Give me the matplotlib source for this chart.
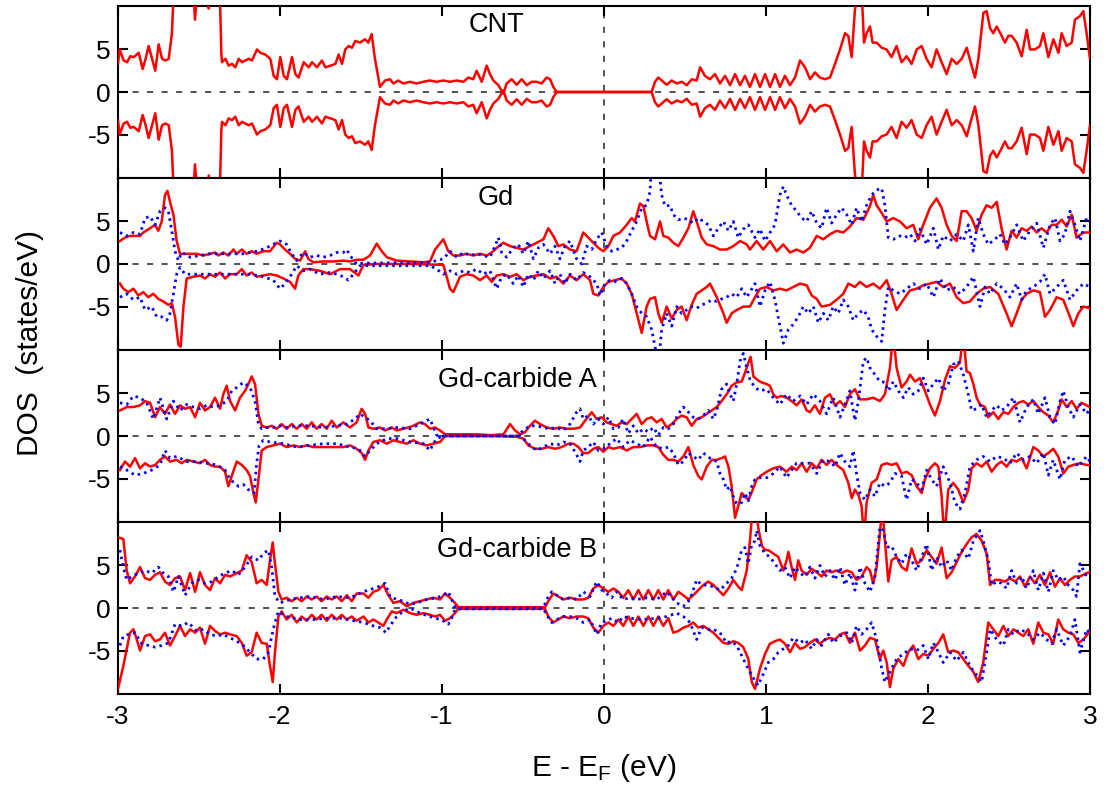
import matplotlib
matplotlib.use("Agg")
import matplotlib.pyplot as plt
import numpy as np

plt.rcParams['font.family'] = ['Liberation Sans', 'DejaVu Sans']
plt.rcParams['axes.unicode_minus'] = False
plt.rcParams['mathtext.default'] = 'regular'

# ---------------- data (E - E_F in eV, DOS in states/eV) ----------------
panel_titles = ["CNT", "Gd", "Gd-carbide A", "Gd-carbide B"]
x_ticks = [-3, -2, -1, 0, 1, 2, 3]
y_ticks = [-5, 0, 5]

# CNT spin-up (spin-down is its mirror image)
cnt_up = [(-3.00, 3.3), (-2.99, 5.0), (-2.965, 3.7), (-2.944, 3.5), (-2.924, 4.2), (-2.903, 4.1),
          (-2.872, 4.6), (-2.848, 2.7), (-2.827, 4.1), (-2.811, 5.4), (-2.790, 3.9), (-2.770, 2.5),
          (-2.749, 5.6), (-2.728, 3.9), (-2.708, 3.7), (-2.687, 3.9), (-2.667, 6.9), (-2.656, 12),
          (-2.535, 12), (-2.525, 8.5), (-2.51, 12), (-2.45, 12), (-2.44, 9.8), (-2.43, 12),
          (-2.372, 12), (-2.362, 4.5), (-2.358, 3.5), (-2.337, 3.9), (-2.317, 3.1), (-2.296, 3.3),
          (-2.276, 2.9), (-2.255, 3.9), (-2.235, 3.5), (-2.214, 3.7), (-2.193, 3.9), (-2.173, 3.7),
          (-2.142, 5.0), (-2.121, 4.6), (-2.091, 4.4), (-2.060, 3.9), (-2.039, 1.9), (-2.019, 1.5),
          (-1.998, 4.1), (-1.977, 1.9), (-1.957, 1.5), (-1.926, 4.1), (-1.905, 2.1), (-1.885, 1.7),
          (-1.854, 3.5), (-1.823, 2.9), (-1.802, 3.5), (-1.772, 2.9), (-1.741, 3.7), (-1.720, 2.9),
          (-1.689, 3.1), (-1.658, 3.3), (-1.638, 4.4), (-1.617, 3.3), (-1.597, 5.0), (-1.576, 5.4),
          (-1.556, 5.2), (-1.535, 6.0), (-1.506, 5.8), (-1.475, 6.2), (-1.455, 5.8), (-1.434, 6.8),
          (-1.414, 3.9), (-1.383, 0.6), (-1.352, 1.35), (-1.321, 1.5), (-1.300, 1.0), (-1.270, 1.35),
          (-1.239, 1.0), (-1.198, 1.2), (-1.156, 1.0), (-1.115, 1.2), (-1.074, 1.35), (-1.033, 1.2),
          (-0.992, 1.35), (-0.951, 1.2), (-0.909, 1.35), (-0.868, 1.2), (-0.837, 1.7), (-0.807, 1.5),
          (-0.786, 2.5), (-0.755, 1.2), (-0.724, 3.1), (-0.704, 2.1), (-0.683, 1.35), (-0.652, 0.8),
          (-0.621, -0.2), (-0.601, 1.0), (-0.570, 1.5), (-0.539, 0.85), (-0.508, 1.5), (-0.477, 0.8),
          (-0.447, 1.2), (-0.416, 1.2), (-0.385, 1.0), (-0.354, 1.7), (-0.333, 1.5), (-0.313, 0.6),
          (-0.292, 0.0), (0.294, 0.0), (0.315, 1.2), (0.335, 1.7), (0.356, 1.35), (0.387, 0.85),
          (0.418, 1.35), (0.449, 1.0), (0.480, 1.2), (0.511, 0.8), (0.542, 1.5), (0.572, 1.35),
          (0.593, 2.9), (0.623, 1.9), (0.654, 1.5), (0.685, 2.1), (0.716, 1.0), (0.747, 1.9),
          (0.778, 0.8), (0.809, 2.1), (0.840, 0.8), (0.870, 1.9), (0.901, 0.6), (0.932, 2.1),
          (0.963, 0.6), (0.994, 2.1), (1.025, 0.6), (1.056, 2.1), (1.086, 0.6), (1.117, 1.9),
          (1.148, 0.8), (1.179, 1.7), (1.210, 3.7), (1.241, 2.9), (1.272, 1.5), (1.302, 2.3),
          (1.333, 1.7), (1.364, 1.5), (1.395, 1.7), (1.426, 3.3), (1.457, 5.0), (1.488, 6.9),
          (1.508, 6.6), (1.529, 4.1), (1.549, 9.7), (1.570, 12), (1.590, 12), (1.605, 5.8),
          (1.621, 6.9), (1.642, 7.7), (1.658, 5.8), (1.683, 5.8), (1.714, 5.2), (1.744, 5.0),
          (1.775, 4.1), (1.806, 5.4), (1.837, 3.5), (1.868, 4.2), (1.899, 3.3), (1.930, 5.0),
          (1.961, 5.4), (1.991, 3.9), (2.022, 2.9), (2.053, 5.0), (2.084, 3.5), (2.115, 2.1),
          (2.146, 3.9), (2.177, 3.3), (2.208, 3.9), (2.239, 5.2), (2.269, 3.1), (2.290, 1.7),
          (2.311, 3.9), (2.342, 9.3), (2.362, 9.5), (2.383, 7.5), (2.403, 6.9), (2.424, 7.7),
          (2.455, 6.6), (2.475, 5.8), (2.496, 6.6), (2.516, 6.6), (2.547, 5.8), (2.578, 4.2),
          (2.609, 7.3), (2.630, 5.0), (2.660, 5.0), (2.691, 5.4), (2.712, 6.9), (2.743, 4.1),
          (2.774, 6.2), (2.805, 4.6), (2.825, 6.9), (2.856, 5.4), (2.887, 5.8), (2.907, 8.5),
          (2.938, 8.9), (2.959, 9.5), (2.979, 6.9), (3.0, 3.9)]

gd_red_up = [(-2.988, 2.7), (-2.957, 3.1), (-2.926, 3.3), (-2.864, 3.3), (-2.844, 3.7), (-2.802, 4.2),
             (-2.772, 4.6), (-2.751, 3.9), (-2.730, 5.0), (-2.710, 8.1), (-2.695, 8.6), (-2.679, 7.3),
             (-2.658, 5.8), (-2.638, 2.7), (-2.617, 1.2), (-2.576, 1.2), (-2.514, 1.2), (-2.473, 1.0),
             (-2.432, 1.2), (-2.401, 1.35), (-2.380, 1.0), (-2.350, 1.35), (-2.319, 1.0), (-2.288, 1.7),
             (-2.267, 1.2), (-2.236, 1.7), (-2.206, 1.2), (-2.175, 1.5), (-2.144, 1.2), (-2.103, 1.5),
             (-2.062, 1.5), (-2.020, 2.5), (-2.000, 2.3), (-1.969, 1.7), (-1.938, 1.2), (-1.907, 0.6),
             (-1.876, 0.4), (-1.845, 1.5), (-1.825, 0.6), (-1.794, 0.2), (-1.732, 0.3), (-1.670, 0.3),
             (-1.609, 0.4), (-1.568, 0.3), (-1.527, 0.5), (-1.485, 0.5), (-1.444, 1.0), (-1.403, 2.4),
             (-1.372, 1.5), (-1.341, 0.8), (-1.280, 0.4), (-1.197, 0.3), (-1.115, 0.2), (-1.074, 0.3),
             (-1.043, 1.7), (-0.992, 2.9), (-0.961, 1.5), (-0.930, 1.0), (-0.889, 1.0), (-0.848, 1.2),
             (-0.807, 1.0), (-0.765, 1.2), (-0.724, 1.0), (-0.693, 1.35), (-0.662, 1.9), (-0.621, 2.5),
             (-0.580, 2.1), (-0.539, 1.9), (-0.498, 1.7), (-0.457, 2.1), (-0.416, 2.5), (-0.374, 2.9),
             (-0.344, 4.2), (-0.313, 3.3), (-0.282, 2.1), (-0.251, 2.3), (-0.210, 1.7), (-0.169, 1.5),
             (-0.128, 3.7), (-0.097, 3.1), (-0.066, 2.5), (-0.035, 1.9), (-0.004, 1.5), (0.027, 2.1),
             (0.058, 3.3), (0.099, 3.7), (0.140, 4.6), (0.171, 5.4), (0.191, 5.0), (0.222, 7.1),
             (0.243, 6.8), (0.263, 5.0), (0.284, 3.3), (0.315, 2.9), (0.346, 5.0), (0.366, 3.3),
             (0.397, 3.1), (0.428, 2.5), (0.459, 2.1), (0.490, 3.1), (0.521, 4.2), (0.551, 6.2),
             (0.572, 5.0), (0.603, 3.1), (0.634, 2.3), (0.675, 2.1), (0.716, 1.7), (0.757, 1.7),
             (0.798, 2.1), (0.840, 2.7), (0.881, 2.3), (0.901, 1.7), (0.942, 2.7), (0.983, 1.7),
             (1.025, 2.7), (1.066, 1.5), (1.107, 2.3), (1.148, 1.35), (1.189, 1.7), (1.230, 1.35),
             (1.271, 1.9), (1.313, 3.3), (1.354, 2.9), (1.395, 3.5), (1.436, 3.9), (1.477, 3.7),
             (1.518, 4.4), (1.559, 5.4), (1.601, 5.2), (1.642, 6.8), (1.662, 8.1), (1.683, 6.9),
             (1.714, 6.0), (1.745, 5.0), (1.786, 5.4), (1.827, 5.0), (1.868, 4.2), (1.909, 4.6),
             (1.940, 2.9), (1.971, 4.6), (2.012, 6.6), (2.053, 7.7), (2.084, 6.6), (2.115, 4.6),
             (2.146, 3.3), (2.177, 2.7), (2.208, 6.2), (2.238, 6.2), (2.269, 5.4), (2.300, 3.9),
             (2.331, 5.8), (2.362, 6.9), (2.393, 6.6), (2.424, 7.3), (2.454, 4.2), (2.485, 1.7),
             (2.516, 3.9), (2.547, 3.1), (2.578, 4.2), (2.609, 3.9), (2.640, 4.4), (2.671, 3.7),
             (2.701, 4.2), (2.732, 3.7), (2.763, 4.6), (2.794, 4.6), (2.825, 5.2), (2.856, 4.4),
             (2.887, 5.8), (2.917, 3.1), (2.959, 3.7), (3.0, 3.7)]

gd_red_dn = [(-2.988, -2.3), (-2.967, -2.9), (-2.936, -3.3), (-2.905, -2.9), (-2.874, -3.7), (-2.844, -3.3),
             (-2.813, -3.9), (-2.782, -3.5), (-2.751, -4.1), (-2.720, -4.4), (-2.689, -4.8), (-2.668, -4.6),
             (-2.648, -6.2), (-2.627, -9.5), (-2.613, -9.7), (-2.596, -5.0), (-2.576, -1.7), (-2.535, -1.5),
             (-2.494, -1.35), (-2.463, -1.7), (-2.432, -1.2), (-2.401, -1.5), (-2.370, -1.0), (-2.339, -1.7),
             (-2.309, -1.2), (-2.267, -1.2), (-2.236, -0.6), (-2.206, -1.35), (-2.175, -1.0), (-2.144, -1.5),
             (-2.103, -1.35), (-2.062, -1.2), (-2.020, -1.35), (-1.979, -1.7), (-1.938, -2.1), (-1.907, -2.9),
             (-1.887, -1.35), (-1.856, -0.6), (-1.815, -0.6), (-1.753, -0.8), (-1.691, -1.2), (-1.629, -0.6),
             (-1.568, -0.6), (-1.516, -1.35), (-1.485, -0.1), (-1.403, 0.0), (-1.197, 0.0), (-0.992, -0.1),
             (-0.971, -1.5), (-0.951, -2.9), (-0.930, -3.3), (-0.889, -1.5), (-0.848, -1.2), (-0.807, -1.35),
             (-0.765, -1.9), (-0.724, -1.35), (-0.693, -2.1), (-0.662, -1.35), (-0.621, -1.2), (-0.580, -1.5),
             (-0.539, -1.2), (-0.498, -1.9), (-0.457, -1.5), (-0.416, -1.35), (-0.374, -1.2), (-0.333, -1.7),
             (-0.292, -1.5), (-0.251, -2.3), (-0.210, -1.35), (-0.169, -1.9), (-0.128, -1.2), (-0.086, -1.9),
             (-0.066, -3.5), (-0.035, -3.7), (-0.004, -2.7), (0.027, -2.1), (0.068, -1.9), (0.109, -1.7),
             (0.140, -2.3), (0.171, -3.5), (0.202, -5.8), (0.233, -8.1), (0.263, -5.0), (0.284, -4.1),
             (0.315, -3.9), (0.335, -5.8), (0.356, -6.9), (0.387, -5.0), (0.418, -6.4), (0.449, -5.4),
             (0.479, -5.0), (0.510, -6.6), (0.541, -4.8), (0.572, -3.5), (0.603, -3.1), (0.634, -2.7),
             (0.654, -2.3), (0.696, -3.9), (0.737, -5.8), (0.757, -6.9), (0.788, -5.8), (0.819, -5.4),
             (0.860, -5.0), (0.901, -5.0), (0.932, -3.9), (0.963, -2.9), (1.004, -2.7), (1.045, -3.1),
             (1.086, -2.9), (1.127, -3.1), (1.168, -2.7), (1.210, -2.3), (1.251, -2.5), (1.282, -3.7),
             (1.313, -4.1), (1.343, -5.0), (1.395, -4.8), (1.436, -4.2), (1.477, -3.5), (1.508, -2.3),
             (1.549, -2.7), (1.580, -2.1), (1.621, -2.7), (1.662, -2.3), (1.703, -2.9), (1.745, -1.9),
             (1.775, -3.5), (1.806, -5.4), (1.848, -4.2), (1.889, -3.1), (1.930, -2.9), (1.971, -2.5),
             (2.012, -2.3), (2.053, -2.1), (2.094, -2.7), (2.136, -2.3), (2.177, -3.9), (2.218, -4.6),
             (2.259, -4.4), (2.300, -3.5), (2.341, -2.9), (2.383, -2.7), (2.434, -3.5), (2.485, -5.8),
             (2.516, -7.3), (2.547, -5.8), (2.578, -4.2), (2.609, -3.5), (2.650, -3.1), (2.691, -3.3),
             (2.722, -6.2), (2.753, -5.4), (2.794, -3.9), (2.835, -4.2), (2.876, -6.2), (2.897, -7.3),
             (2.928, -5.8), (2.959, -5.0), (3.0, -5.2)]

gd_blue_up = [(-2.988, 3.7), (-2.946, 3.3), (-2.905, 3.7), (-2.864, 3.5), (-2.833, 5.4), (-2.802, 5.6),
              (-2.771, 4.6), (-2.741, 6.2), (-2.710, 6.6), (-2.689, 6.2), (-2.668, 3.9), (-2.648, 1.5),
              (-2.627, 0.4), (-2.607, 1.35), (-2.555, 0.8), (-2.494, 1.0), (-2.432, 1.2), (-2.370, 1.2),
              (-2.309, 1.2), (-2.226, 1.2), (-2.144, 1.5), (-2.082, 1.9), (-2.041, 2.3), (-2.000, 2.7),
              (-1.959, 2.3), (-1.928, 1.2), (-1.897, 0.4), (-1.856, 1.35), (-1.815, 0.8), (-1.774, 1.0),
              (-1.732, 0.8), (-1.691, 1.0), (-1.650, 1.35), (-1.609, 1.35), (-1.588, 1.7), (-1.568, 1.0),
              (-1.527, 0.0), (-1.485, 0.1), (-1.074, 0.2), (-1.033, 0.4), (-0.992, 0.6), (-0.951, 1.5),
              (-0.909, 0.8), (-0.868, 1.35), (-0.827, 1.0), (-0.786, 1.2), (-0.745, 1.0), (-0.704, 0.8),
              (-0.673, 2.1), (-0.652, 3.1), (-0.632, 1.35), (-0.601, 0.8), (-0.560, 1.9), (-0.529, 2.3),
              (-0.498, 1.2), (-0.467, 2.7), (-0.436, 0.6), (-0.405, 1.9), (-0.374, 2.3), (-0.333, 1.2),
              (-0.302, 2.1), (-0.272, 0.6), (-0.241, 2.1), (-0.210, 2.7), (-0.169, 0.6), (-0.138, 0.0),
              (-0.107, 2.1), (-0.076, 1.7), (-0.045, 2.9), (-0.014, 3.7), (0.016, 2.1), (0.047, 1.5),
              (0.078, 1.7), (0.109, 1.9), (0.140, 2.7), (0.171, 3.9), (0.202, 5.0), (0.233, 6.6),
              (0.263, 6.9), (0.284, 8.5), (0.294, 12), (0.335, 12), (0.356, 8.1), (0.377, 6.8),
              (0.407, 6.9), (0.428, 5.8), (0.459, 5.2), (0.490, 5.4), (0.521, 5.2), (0.551, 4.8),
              (0.582, 5.4), (0.613, 5.0), (0.644, 4.6), (0.675, 3.3), (0.706, 4.2), (0.737, 5.0),
              (0.768, 3.9), (0.798, 5.0), (0.829, 3.1), (0.860, 4.1), (0.891, 4.6), (0.932, 3.1),
              (0.963, 4.1), (0.994, 2.7), (1.025, 3.7), (1.055, 4.6), (1.086, 8.1), (1.107, 9.1),
              (1.127, 8.1), (1.158, 6.9), (1.189, 6.2), (1.220, 5.4), (1.251, 5.0), (1.282, 6.2),
              (1.313, 4.8), (1.343, 4.2), (1.374, 6.6), (1.405, 4.8), (1.436, 5.8), (1.467, 6.6),
              (1.498, 5.8), (1.529, 4.6), (1.559, 6.6), (1.590, 5.0), (1.621, 6.9), (1.652, 8.1),
              (1.683, 8.7), (1.714, 8.9), (1.734, 6.9), (1.755, 3.1), (1.786, 2.9), (1.827, 3.3),
              (1.858, 3.1), (1.889, 3.5), (1.920, 2.7), (1.950, 4.1), (1.992, 2.3), (2.033, 4.2),
              (2.064, 1.7), (2.094, 3.3), (2.136, 2.7), (2.177, 3.5), (2.218, 2.7), (2.249, 4.6),
              (2.280, 1.5), (2.310, 5.4), (2.341, 3.5), (2.372, 2.3), (2.413, 2.9), (2.444, 3.5),
              (2.475, 2.3), (2.506, 3.1), (2.547, 4.6), (2.588, 2.7), (2.629, 3.9), (2.671, 4.8),
              (2.712, 1.9), (2.753, 4.6), (2.784, 5.4), (2.815, 2.7), (2.845, 3.5), (2.876, 6.2),
              (2.907, 4.6), (2.938, 2.7), (2.979, 5.4), (3.0, 5.0)]

gd_blue_dn = [(-2.988, -3.9), (-2.946, -3.5), (-2.905, -4.2), (-2.864, -3.9), (-2.833, -5.4), (-2.792, -5.0),
              (-2.761, -6.2), (-2.730, -6.2), (-2.699, -6.6), (-2.679, -5.8), (-2.658, -3.5), (-2.638, -1.2),
              (-2.617, -0.4), (-2.586, -1.2), (-2.514, -1.2), (-2.432, -1.2), (-2.350, -1.2), (-2.267, -1.2),
              (-2.185, -1.2), (-2.103, -1.5), (-2.041, -1.9), (-2.000, -2.9), (-1.969, -2.3), (-1.928, -1.2),
              (-1.897, -0.2), (-1.856, -0.8), (-1.815, -0.6), (-1.753, -1.2), (-1.691, -1.0), (-1.650, -1.2),
              (-1.609, -1.5), (-1.578, -1.9), (-1.547, -1.2), (-1.506, -0.2), (-1.074, -0.2), (-1.033, -0.6),
              (-0.992, -1.2), (-0.951, -0.8), (-0.909, -1.2), (-0.868, -0.8), (-0.827, -1.0), (-0.786, -0.6),
              (-0.745, -1.2), (-0.704, -0.8), (-0.662, -2.9), (-0.632, -1.5), (-0.601, -1.2), (-0.560, -2.3),
              (-0.529, -1.35), (-0.498, -2.7), (-0.467, -1.2), (-0.436, -1.9), (-0.405, -0.8), (-0.374, -1.7),
              (-0.333, -0.8), (-0.302, -2.3), (-0.272, -1.2), (-0.241, -2.3), (-0.210, -1.2), (-0.169, -1.9),
              (-0.128, -1.0), (-0.086, -1.5), (-0.045, -2.3), (-0.025, -3.7), (0.006, -2.3), (0.037, -1.9),
              (0.078, -2.1), (0.109, -1.7), (0.140, -2.3), (0.171, -3.5), (0.202, -5.0), (0.233, -5.8),
              (0.263, -6.2), (0.294, -7.7), (0.315, -9.7), (0.335, -12), (0.356, -7.7), (0.387, -5.8),
              (0.418, -7.3), (0.449, -5.0), (0.479, -5.8), (0.510, -5.4), (0.541, -5.0), (0.572, -5.2),
              (0.603, -4.8), (0.634, -4.6), (0.665, -4.2), (0.696, -4.4), (0.726, -4.1), (0.757, -3.9),
              (0.788, -3.5), (0.819, -3.9), (0.850, -2.9), (0.881, -3.9), (0.932, -2.3), (0.963, -5.0),
              (0.994, -3.1), (1.025, -2.1), (1.055, -4.2), (1.086, -7.3), (1.107, -9.3), (1.138, -7.7),
              (1.168, -7.1), (1.199, -6.2), (1.230, -5.0), (1.261, -5.8), (1.292, -5.0), (1.323, -6.9),
              (1.354, -5.8), (1.385, -6.6), (1.415, -5.0), (1.446, -5.8), (1.477, -4.2), (1.508, -5.0),
              (1.539, -6.6), (1.570, -5.8), (1.601, -5.4), (1.631, -6.2), (1.652, -7.7), (1.683, -8.5),
              (1.714, -9.1), (1.734, -5.4), (1.755, -2.7), (1.786, -3.1), (1.827, -3.5), (1.868, -2.9),
              (1.909, -2.3), (1.950, -2.9), (1.992, -2.3), (2.033, -3.9), (2.074, -1.7), (2.115, -3.1),
              (2.156, -2.7), (2.197, -3.5), (2.238, -2.7), (2.280, -1.5), (2.321, -5.0), (2.352, -2.7),
              (2.383, -3.5), (2.424, -2.3), (2.465, -2.9), (2.506, -3.9), (2.547, -2.3), (2.578, -4.2),
              (2.609, -3.1), (2.650, -2.7), (2.691, -2.1), (2.722, -1.2), (2.753, -3.5), (2.794, -2.7),
              (2.835, -1.9), (2.876, -4.2), (2.917, -3.1), (2.959, -2.3), (3.0, -2.7)]

ga_red_up = [(-2.988, 3.0), (-2.946, 3.4), (-2.905, 3.4), (-2.864, 3.6), (-2.833, 4.1), (-2.802, 3.9),
             (-2.771, 2.2), (-2.741, 3.4), (-2.710, 2.6), (-2.679, 3.7), (-2.648, 2.6), (-2.617, 3.6),
             (-2.586, 3.2), (-2.555, 3.4), (-2.524, 2.2), (-2.494, 3.9), (-2.463, 3.0), (-2.432, 3.4),
             (-2.401, 4.5), (-2.370, 3.2), (-2.350, 4.9), (-2.329, 5.9), (-2.308, 4.1), (-2.277, 3.0),
             (-2.247, 4.5), (-2.216, 5.3), (-2.195, 6.1), (-2.175, 7.0), (-2.154, 6.1), (-2.133, 2.6),
             (-2.113, 1.2), (-2.082, 1.0), (-2.051, 1.2), (-2.020, 0.85), (-1.990, 1.4), (-1.959, 0.85),
             (-1.928, 1.4), (-1.897, 0.85), (-1.866, 1.4), (-1.835, 0.85), (-1.804, 1.6), (-1.774, 0.85),
             (-1.743, 1.4), (-1.712, 0.85), (-1.681, 1.8), (-1.650, 1.0), (-1.609, 1.6), (-1.568, 1.0),
             (-1.527, 1.6), (-1.496, 3.2), (-1.475, 2.6), (-1.454, 1.0), (-1.424, 0.85), (-1.383, 1.0),
             (-1.352, 0.65), (-1.310, 1.0), (-1.280, 0.65), (-1.239, 0.85), (-1.208, 1.0), (-1.177, 1.2),
             (-1.136, 1.6), (-1.105, 1.4), (-1.074, 0.85), (-1.043, 1.0), (-1.012, 0.65), (-0.981, 0.2),
             (-0.868, 0.2), (-0.786, 0.2), (-0.704, 0.1), (-0.621, 0.2), (-0.580, 1.4), (-0.549, 0.65),
             (-0.518, 0.2), (-0.488, 0.45), (-0.457, 1.2), (-0.426, 1.8), (-0.395, 1.4), (-0.354, 1.0),
             (-0.313, 0.85), (-0.272, 1.0), (-0.230, 0.85), (-0.189, 0.85), (-0.148, 1.0), (-0.117, 1.8),
             (-0.076, 2.8), (-0.045, 2.0), (-0.014, 2.2), (0.016, 1.6), (0.047, 1.4), (0.078, 1.2),
             (0.109, 1.6), (0.140, 1.4), (0.171, 2.0), (0.202, 2.6), (0.233, 1.4), (0.263, 2.0),
             (0.294, 2.2), (0.325, 1.6), (0.356, 2.0), (0.387, 1.0), (0.418, 1.4), (0.449, 2.0),
             (0.479, 2.4), (0.510, 2.2), (0.541, 1.2), (0.572, 2.0), (0.603, 2.2), (0.634, 2.6),
             (0.665, 3.0), (0.696, 3.4), (0.726, 4.1), (0.757, 4.9), (0.788, 5.9), (0.819, 6.3),
             (0.850, 6.4), (0.870, 7.4), (0.891, 8.6), (0.905, 9.3), (0.922, 7.0), (0.953, 6.5),
             (0.973, 6.3), (1.004, 6.1), (1.024, 5.9), (1.045, 4.9), (1.066, 4.5), (1.096, 4.7),
             (1.127, 4.5), (1.158, 4.1), (1.189, 3.6), (1.220, 4.3), (1.251, 3.0), (1.271, 2.8),
             (1.302, 3.6), (1.333, 2.6), (1.364, 4.5), (1.395, 4.9), (1.426, 3.6), (1.457, 4.1),
             (1.487, 3.4), (1.518, 4.9), (1.549, 5.5), (1.580, 4.3), (1.621, 4.3), (1.662, 4.5),
             (1.703, 4.1), (1.734, 4.9), (1.765, 8.0), (1.786, 12), (1.806, 8.0), (1.837, 5.7),
             (1.868, 6.4), (1.889, 7.2), (1.920, 6.4), (1.950, 6.8), (1.981, 5.3), (2.012, 3.7),
             (2.043, 2.4), (2.074, 4.1), (2.105, 6.6), (2.136, 8.2), (2.166, 8.0), (2.197, 8.6),
             (2.218, 12), (2.238, 7.6), (2.259, 7.4), (2.280, 6.1), (2.300, 4.5), (2.321, 3.7),
             (2.352, 3.4), (2.372, 2.2), (2.403, 2.8), (2.434, 2.0), (2.465, 2.8), (2.496, 2.6),
             (2.527, 3.4), (2.557, 3.9), (2.588, 4.1), (2.619, 3.7), (2.650, 4.1), (2.681, 3.4),
             (2.712, 2.8), (2.743, 2.4), (2.773, 1.6), (2.804, 3.0), (2.825, 4.3), (2.856, 3.4),
             (2.887, 4.1), (2.917, 3.2), (2.948, 3.9), (2.979, 3.6), (3.0, 3.4)]

ga_red_dn = [(-2.988, -4.0), (-2.957, -3.0), (-2.926, -3.6), (-2.895, -2.6), (-2.864, -3.8), (-2.833, -3.2),
             (-2.802, -3.6), (-2.771, -3.4), (-2.741, -2.8), (-2.710, -2.4), (-2.679, -3.0), (-2.638, -2.8),
             (-2.607, -3.2), (-2.576, -2.8), (-2.535, -3.0), (-2.494, -3.2), (-2.463, -2.8), (-2.432, -3.4),
             (-2.401, -3.6), (-2.370, -3.6), (-2.339, -4.2), (-2.319, -5.9), (-2.298, -4.7), (-2.267, -3.0),
             (-2.236, -3.4), (-2.206, -4.0), (-2.185, -4.7), (-2.164, -6.7), (-2.150, -7.8), (-2.133, -5.1),
             (-2.113, -1.7), (-2.082, -1.3), (-2.041, -1.1), (-2.000, -0.9), (-1.959, -1.3), (-1.917, -1.1),
             (-1.876, -1.3), (-1.835, -1.1), (-1.794, -1.3), (-1.732, -1.3), (-1.671, -1.3), (-1.609, -1.3),
             (-1.568, -1.1), (-1.527, -1.5), (-1.496, -2.0), (-1.475, -2.8), (-1.454, -1.7), (-1.424, -0.7),
             (-1.383, -0.5), (-1.341, -0.9), (-1.300, -0.5), (-1.259, -0.7), (-1.218, -0.9), (-1.177, -0.5),
             (-1.136, -0.9), (-1.095, -1.1), (-1.054, -0.9), (-1.012, -0.7), (-0.981, 0.0), (-0.868, 0.0),
             (-0.662, 0.0), (-0.539, -0.1), (-0.498, -0.3), (-0.467, -1.1), (-0.426, -1.5), (-0.385, -1.5),
             (-0.344, -1.3), (-0.302, -1.5), (-0.261, -1.3), (-0.220, -0.9), (-0.189, -0.9), (-0.158, -1.3),
             (-0.128, -2.0), (-0.097, -2.0), (-0.066, -1.5), (-0.035, -1.3), (-0.004, -1.85), (0.027, -1.3),
             (0.058, -1.5), (0.099, -1.3), (0.140, -1.7), (0.181, -1.3), (0.222, -1.3), (0.263, -1.1),
             (0.305, -1.1), (0.335, -1.3), (0.366, -2.2), (0.397, -2.8), (0.428, -2.8), (0.459, -3.0),
             (0.490, -2.4), (0.521, -1.3), (0.551, -3.4), (0.582, -4.7), (0.603, -5.1), (0.634, -3.6),
             (0.665, -2.8), (0.696, -2.8), (0.726, -2.6), (0.747, -2.4), (0.768, -3.6), (0.788, -5.9),
             (0.809, -9.6), (0.829, -8.2), (0.850, -6.7), (0.870, -7.1), (0.891, -7.5), (0.912, -6.6),
             (0.942, -5.1), (0.973, -4.6), (1.004, -4.2), (1.045, -3.8), (1.086, -3.6), (1.127, -4.2),
             (1.158, -3.6), (1.189, -4.0), (1.220, -3.2), (1.251, -4.2), (1.282, -3.2), (1.313, -3.8),
             (1.343, -2.8), (1.374, -3.4), (1.405, -2.8), (1.436, -3.4), (1.477, -4.0), (1.508, -5.5),
             (1.529, -7.3), (1.549, -6.3), (1.570, -6.9), (1.590, -8.2), (1.605, -12), (1.621, -7.8),
             (1.652, -5.5), (1.683, -5.1), (1.714, -3.4), (1.745, -3.2), (1.775, -3.4), (1.806, -3.2),
             (1.837, -4.4), (1.868, -4.2), (1.899, -4.6), (1.930, -5.9), (1.961, -6.7), (1.981, -5.1),
             (2.012, -3.8), (2.043, -3.2), (2.064, -3.6), (2.084, -7.1), (2.101, -12), (2.125, -6.3),
             (2.156, -5.5), (2.187, -6.3), (2.218, -7.8), (2.249, -6.3), (2.269, -3.8), (2.300, -3.2),
             (2.331, -3.6), (2.362, -3.0), (2.393, -4.2), (2.424, -3.4), (2.454, -3.0), (2.485, -3.6),
             (2.516, -2.8), (2.547, -3.0), (2.578, -2.6), (2.609, -3.8), (2.650, -1.3), (2.681, -1.7),
             (2.712, -2.4), (2.743, -2.0), (2.773, -1.5), (2.804, -2.4), (2.835, -4.4), (2.866, -3.6),
             (2.897, -3.4), (2.938, -3.2), (2.979, -3.4), (3.0, -3.4)]

ga_blue_up = [(-2.988, 3.9), (-2.946, 3.7), (-2.905, 4.7), (-2.864, 4.5), (-2.823, 3.9), (-2.782, 2.0),
              (-2.741, 4.5), (-2.699, 2.0), (-2.658, 4.1), (-2.617, 3.0), (-2.576, 3.7), (-2.535, 3.4),
              (-2.494, 3.2), (-2.453, 3.6), (-2.411, 3.4), (-2.370, 3.6), (-2.329, 4.1), (-2.298, 5.3),
              (-2.267, 5.7), (-2.226, 6.3), (-2.185, 5.7), (-2.154, 4.1), (-2.133, 1.4), (-2.113, 0.85),
              (-2.082, 1.0), (-2.041, 1.0), (-2.000, 1.2), (-1.959, 1.0), (-1.897, 1.2), (-1.815, 1.2),
              (-1.732, 1.0), (-1.650, 1.2), (-1.588, 1.4), (-1.537, 2.0), (-1.506, 2.6), (-1.475, 2.2),
              (-1.444, 1.8), (-1.403, 0.85), (-1.341, 0.85), (-1.280, 1.0), (-1.197, 0.85), (-1.115, 1.6),
              (-1.074, 2.0), (-1.053, 1.0), (-1.033, 0.1), (-0.992, 0.0), (-0.539, 0.0), (-0.498, 0.65),
              (-0.457, 1.2), (-0.416, 1.2), (-0.374, 1.0), (-0.333, 0.85), (-0.292, 1.0), (-0.251, 0.65),
              (-0.210, 1.4), (-0.169, 2.8), (-0.148, 3.2), (-0.128, 2.0), (-0.097, 2.4), (-0.066, 1.4),
              (-0.035, 2.0), (-0.004, 1.4), (0.027, 2.2), (0.058, 0.85), (0.089, 1.0), (0.119, 2.0),
              (0.150, 0.3), (0.181, 1.2), (0.212, 0.3), (0.243, 0.85), (0.274, 0.45), (0.305, 1.0),
              (0.335, 0.1), (0.366, 1.0), (0.397, 0.85), (0.428, 1.4), (0.459, 2.6), (0.490, 3.4),
              (0.521, 2.8), (0.551, 2.2), (0.582, 2.0), (0.613, 2.4), (0.644, 3.0), (0.675, 2.0),
              (0.696, 3.0), (0.726, 5.5), (0.757, 6.1), (0.778, 4.9), (0.798, 4.1), (0.819, 6.1),
              (0.840, 8.8), (0.860, 9.7), (0.881, 8.0), (0.901, 6.6), (0.932, 5.7), (0.963, 5.3),
              (1.004, 5.5), (1.045, 4.5), (1.086, 3.7), (1.127, 4.9), (1.168, 4.1), (1.210, 4.7),
              (1.251, 3.7), (1.292, 4.9), (1.333, 4.1), (1.374, 2.6), (1.415, 4.5), (1.457, 2.2),
              (1.487, 3.7), (1.518, 5.3), (1.549, 1.8), (1.570, 4.1), (1.601, 8.8), (1.621, 9.2),
              (1.642, 8.0), (1.673, 7.2), (1.703, 6.4), (1.734, 6.3), (1.755, 5.3), (1.786, 6.4),
              (1.817, 5.3), (1.848, 4.5), (1.878, 5.7), (1.909, 4.9), (1.940, 5.3), (1.971, 6.8),
              (2.002, 5.3), (2.033, 6.1), (2.064, 6.8), (2.094, 5.3), (2.125, 6.1), (2.156, 8.4),
              (2.187, 8.8), (2.218, 7.2), (2.249, 4.9), (2.269, 3.0), (2.300, 3.2), (2.331, 3.7),
              (2.362, 2.2), (2.393, 3.0), (2.424, 3.6), (2.454, 3.0), (2.485, 3.4), (2.527, 4.5),
              (2.568, 1.6), (2.609, 3.4), (2.650, 4.3), (2.681, 2.6), (2.722, 4.5), (2.753, 2.2),
              (2.784, 1.4), (2.815, 4.1), (2.835, 5.3), (2.866, 3.4), (2.897, 2.2), (2.938, 3.7),
              (2.979, 2.6), (3.0, 3.2)]

ga_blue_dn = [(-2.988, -3.6), (-2.946, -4.0), (-2.895, -4.6), (-2.844, -4.4), (-2.792, -4.0), (-2.741, -3.4),
              (-2.710, -1.7), (-2.679, -2.6), (-2.638, -2.4), (-2.576, -3.0), (-2.514, -3.0), (-2.453, -3.2),
              (-2.391, -3.4), (-2.339, -4.0), (-2.308, -5.1), (-2.257, -5.9), (-2.226, -5.7), (-2.185, -6.5),
              (-2.160, -6.7), (-2.144, -3.2), (-2.129, -1.1), (-2.103, -0.5), (-2.062, -0.7), (-1.979, -0.9),
              (-1.897, -1.3), (-1.815, -1.1), (-1.732, -0.9), (-1.650, -0.9), (-1.568, -1.3), (-1.516, -1.5),
              (-1.475, -2.4), (-1.444, -1.7), (-1.403, -0.9), (-1.341, -0.3), (-1.280, -0.3), (-1.197, -0.7),
              (-1.115, -0.9), (-1.074, -1.7), (-1.053, -0.9), (-1.033, -0.3), (-0.992, 0.0), (-0.518, 0.0),
              (-0.488, -0.5), (-0.457, -1.1), (-0.416, -1.7), (-0.374, -1.3), (-0.333, -0.9), (-0.292, -1.1),
              (-0.251, -0.7), (-0.210, -0.9), (-0.169, -2.2), (-0.148, -3.0), (-0.128, -1.7), (-0.097, -1.3),
              (-0.066, -0.7), (-0.035, -1.7), (-0.004, -1.5), (0.037, -0.9), (0.078, -0.3), (0.119, -1.3),
              (0.160, -0.5), (0.202, -0.9), (0.243, -1.3), (0.284, -0.1), (0.325, -1.3), (0.366, -1.5),
              (0.397, -1.3), (0.428, -2.0), (0.459, -3.4), (0.490, -3.0), (0.521, -2.0), (0.551, -2.4),
              (0.582, -2.8), (0.613, -2.0), (0.654, -2.6), (0.696, -3.0), (0.716, -4.4), (0.737, -5.1),
              (0.757, -6.3), (0.778, -5.9), (0.798, -7.1), (0.819, -8.0), (0.850, -7.8), (0.870, -6.7),
              (0.891, -7.6), (0.912, -5.9), (0.932, -5.1), (0.963, -4.9), (1.004, -4.9), (1.045, -4.4),
              (1.086, -3.6), (1.127, -4.9), (1.158, -4.0), (1.189, -3.2), (1.230, -3.2), (1.271, -3.2),
              (1.313, -4.4), (1.354, -2.8), (1.395, -3.0), (1.426, -3.6), (1.457, -2.0), (1.487, -3.0),
              (1.518, -3.6), (1.539, -1.7), (1.559, -4.4), (1.580, -6.7), (1.611, -7.5), (1.642, -6.3),
              (1.673, -7.1), (1.703, -5.5), (1.734, -5.9), (1.765, -5.5), (1.796, -4.4), (1.837, -4.7),
              (1.868, -7.5), (1.899, -5.1), (1.930, -5.5), (1.961, -6.3), (1.992, -4.0), (2.022, -5.1),
              (2.053, -5.9), (2.094, -3.6), (2.136, -5.5), (2.166, -7.8), (2.197, -8.6), (2.228, -6.7),
              (2.259, -3.6), (2.300, -2.8), (2.341, -2.4), (2.383, -3.0), (2.424, -2.4), (2.465, -2.6),
              (2.506, -3.2), (2.547, -2.0), (2.588, -2.8), (2.629, -2.4), (2.671, -3.2), (2.712, -2.0),
              (2.743, -4.6), (2.773, -2.8), (2.815, -5.1), (2.845, -2.8), (2.887, -2.4), (2.928, -3.6),
              (2.979, -2.4), (3.0, -3.0)]

gb_red_up = [(-3.0, 8.3), (-2.967, 8.1), (-2.946, 4.4), (-2.926, 2.9), (-2.895, 3.7), (-2.864, 4.8),
             (-2.833, 3.5), (-2.802, 3.3), (-2.771, 3.9), (-2.741, 4.2), (-2.710, 3.1), (-2.679, 2.7),
             (-2.648, 3.5), (-2.617, 3.7), (-2.586, 2.1), (-2.555, 4.1), (-2.524, 1.9), (-2.494, 4.2),
             (-2.463, 2.7), (-2.432, 2.1), (-2.401, 3.5), (-2.370, 2.9), (-2.339, 3.9), (-2.308, 3.7),
             (-2.267, 4.1), (-2.236, 4.4), (-2.206, 6.2), (-2.175, 5.4), (-2.144, 2.9), (-2.113, 3.3),
             (-2.082, 2.7), (-2.062, 5.6), (-2.045, 7.7), (-2.031, 5.2), (-2.010, 1.9), (-1.990, 1.0),
             (-1.959, 1.2), (-1.928, 0.8), (-1.897, 1.2), (-1.866, 0.8), (-1.835, 1.35), (-1.804, 1.0),
             (-1.774, 1.35), (-1.743, 0.8), (-1.712, 1.35), (-1.681, 1.0), (-1.650, 1.35), (-1.619, 0.8),
             (-1.588, 1.5), (-1.557, 0.8), (-1.527, 1.7), (-1.485, 1.7), (-1.454, 1.2), (-1.424, 1.9),
             (-1.393, 2.1), (-1.362, 2.7), (-1.331, 1.5), (-1.300, 0.6), (-1.259, 0.8), (-1.218, 0.2),
             (-1.177, 0.6), (-1.136, 0.8), (-1.095, 1.0), (-1.054, 1.2), (-1.012, 1.0), (-0.981, 1.7),
             (-0.951, 1.2), (-0.920, 0.6), (-0.899, 0.1), (-0.868, 0.1), (-0.364, 0.1), (-0.344, 0.8),
             (-0.313, 1.7), (-0.282, 1.35), (-0.251, 1.0), (-0.210, 1.2), (-0.169, 1.0), (-0.128, 1.0),
             (-0.097, 1.2), (-0.066, 2.3), (-0.035, 2.7), (-0.004, 2.3), (0.027, 1.9), (0.058, 2.3),
             (0.089, 1.9), (0.119, 1.2), (0.150, 2.1), (0.181, 1.0), (0.212, 2.1), (0.243, 1.0),
             (0.274, 2.1), (0.305, 1.0), (0.335, 2.1), (0.366, 1.0), (0.397, 2.1), (0.428, 1.0),
             (0.459, 1.9), (0.490, 1.5), (0.521, 1.0), (0.551, 1.5), (0.582, 2.1), (0.613, 2.7),
             (0.644, 3.1), (0.675, 2.7), (0.706, 2.1), (0.737, 1.5), (0.768, 2.3), (0.798, 3.3),
             (0.829, 2.5), (0.850, 2.1), (0.881, 4.4), (0.901, 7.9), (0.918, 12), (0.935, 12),
             (0.955, 9.1), (0.975, 7.3), (0.994, 6.8), (1.014, 6.8), (1.045, 6.4), (1.076, 6.0),
             (1.107, 4.4), (1.127, 5.6), (1.138, 6.6), (1.158, 4.8), (1.179, 3.3), (1.199, 5.6),
             (1.220, 4.4), (1.251, 3.9), (1.282, 4.6), (1.313, 4.2), (1.343, 3.7), (1.374, 4.4),
             (1.405, 4.2), (1.436, 4.4), (1.467, 4.1), (1.498, 4.4), (1.529, 4.2), (1.559, 3.3),
             (1.590, 3.7), (1.621, 4.8), (1.642, 4.4), (1.662, 2.9), (1.683, 4.8), (1.703, 8.7),
             (1.718, 12), (1.734, 7.9), (1.755, 3.1), (1.775, 5.6), (1.806, 6.0), (1.837, 4.8),
             (1.868, 4.4), (1.899, 7.0), (1.930, 5.2), (1.961, 5.6), (1.992, 6.8), (2.022, 6.0),
             (2.053, 5.2), (2.084, 7.1), (2.115, 3.5), (2.146, 4.2), (2.177, 5.4), (2.208, 6.6),
             (2.238, 7.5), (2.269, 8.3), (2.300, 8.7), (2.331, 7.9), (2.362, 6.4), (2.383, 2.7),
             (2.413, 3.3), (2.444, 3.3), (2.475, 3.1), (2.506, 3.5), (2.537, 3.1), (2.568, 3.7),
             (2.599, 2.5), (2.629, 3.7), (2.660, 2.9), (2.691, 3.9), (2.722, 2.7), (2.753, 4.2),
             (2.784, 2.5), (2.815, 3.5), (2.845, 2.7), (2.876, 3.3), (2.907, 3.7), (2.938, 3.7),
             (2.979, 4.1), (3.0, 4.2)]

gb_red_dn = [(-3.0, -9.5), (-2.967, -6.8), (-2.946, -4.8), (-2.926, -2.9), (-2.905, -2.5), (-2.884, -3.7),
             (-2.864, -5.0), (-2.833, -3.3), (-2.802, -3.1), (-2.771, -3.9), (-2.741, -3.7), (-2.710, -2.9),
             (-2.679, -4.4), (-2.648, -3.3), (-2.617, -2.1), (-2.586, -3.3), (-2.555, -2.5), (-2.524, -2.9),
             (-2.494, -2.3), (-2.463, -4.2), (-2.432, -2.1), (-2.401, -2.7), (-2.370, -3.1), (-2.339, -2.9),
             (-2.308, -3.1), (-2.267, -3.3), (-2.236, -4.1), (-2.206, -5.6), (-2.175, -5.2), (-2.144, -2.9),
             (-2.113, -4.1), (-2.082, -4.2), (-2.062, -6.8), (-2.045, -8.7), (-2.031, -5.2), (-2.010, -1.0),
             (-1.990, -0.4), (-1.959, -1.35), (-1.928, -0.8), (-1.897, -1.7), (-1.866, -1.0), (-1.835, -1.5),
             (-1.804, -0.8), (-1.774, -1.35), (-1.743, -0.8), (-1.712, -1.5), (-1.681, -0.8), (-1.650, -1.35),
             (-1.619, -0.8), (-1.588, -1.35), (-1.557, -1.0), (-1.527, -1.5), (-1.485, -1.0), (-1.454, -1.7),
             (-1.424, -1.35), (-1.393, -1.7), (-1.362, -2.1), (-1.341, -1.35), (-1.310, -0.4), (-1.280, -0.6),
             (-1.239, -0.2), (-1.197, -0.6), (-1.156, -0.8), (-1.115, -0.6), (-1.074, -0.8), (-1.043, -1.0),
             (-1.012, -0.8), (-0.981, -1.5), (-0.951, -1.2), (-0.920, -0.6), (-0.899, -0.1), (-0.364, -0.1),
             (-0.344, -1.0), (-0.313, -1.7), (-0.282, -1.35), (-0.251, -1.0), (-0.210, -1.2), (-0.169, -1.0),
             (-0.128, -1.0), (-0.097, -1.2), (-0.066, -2.3), (-0.035, -2.9), (-0.004, -2.1), (0.027, -1.7),
             (0.058, -2.1), (0.089, -1.35), (0.119, -2.1), (0.150, -1.0), (0.181, -2.1), (0.212, -1.0),
             (0.243, -2.1), (0.274, -1.0), (0.305, -2.1), (0.335, -1.0), (0.366, -2.1), (0.397, -1.2),
             (0.428, -2.9), (0.459, -2.7), (0.490, -2.3), (0.521, -2.1), (0.551, -1.7), (0.582, -2.3),
             (0.613, -2.1), (0.644, -2.5), (0.675, -2.9), (0.706, -3.5), (0.737, -4.1), (0.768, -4.2),
             (0.798, -3.9), (0.829, -4.1), (0.860, -4.6), (0.891, -6.0), (0.912, -8.7), (0.932, -9.5),
             (0.963, -7.1), (0.994, -5.4), (1.024, -4.2), (1.055, -3.9), (1.086, -3.7), (1.117, -4.2),
             (1.148, -5.2), (1.179, -4.1), (1.210, -4.8), (1.240, -4.6), (1.271, -4.1), (1.302, -3.7),
             (1.333, -4.2), (1.364, -3.7), (1.395, -3.5), (1.426, -3.7), (1.457, -3.1), (1.487, -2.9),
             (1.518, -4.1), (1.549, -2.9), (1.580, -5.0), (1.611, -4.4), (1.642, -3.5), (1.673, -3.7),
             (1.703, -6.0), (1.724, -5.0), (1.745, -6.4), (1.765, -9.3), (1.786, -7.1), (1.817, -6.0),
             (1.848, -6.8), (1.878, -5.2), (1.909, -4.4), (1.940, -6.0), (1.971, -5.4), (2.002, -5.6),
             (2.033, -4.8), (2.064, -4.1), (2.094, -3.1), (2.125, -5.2), (2.156, -5.0), (2.187, -5.2),
             (2.218, -6.0), (2.249, -6.8), (2.280, -7.5), (2.310, -8.7), (2.341, -6.4), (2.372, -1.7),
             (2.403, -2.5), (2.434, -3.3), (2.465, -2.1), (2.496, -3.3), (2.527, -2.5), (2.557, -2.9),
             (2.588, -3.3), (2.619, -2.5), (2.650, -4.2), (2.681, -1.7), (2.712, -2.9), (2.743, -3.1),
             (2.773, -4.2), (2.804, -1.35), (2.835, -2.5), (2.866, -2.9), (2.897, -3.1), (2.928, -4.1),
             (2.959, -3.7), (3.0, -2.7)]

gb_blue_up = [(-2.988, 6.8), (-2.967, 4.8), (-2.946, 3.3), (-2.915, 3.7), (-2.874, 4.1), (-2.833, 4.4),
              (-2.792, 4.1), (-2.751, 4.8), (-2.720, 4.1), (-2.689, 3.7), (-2.658, 1.9), (-2.627, 3.7),
              (-2.586, 1.5), (-2.545, 2.9), (-2.504, 3.3), (-2.463, 2.9), (-2.421, 3.1), (-2.380, 3.7),
              (-2.339, 4.1), (-2.298, 4.4), (-2.257, 3.9), (-2.216, 4.8), (-2.175, 6.0), (-2.133, 5.6),
              (-2.103, 6.4), (-2.072, 6.8), (-2.051, 4.8), (-2.031, 1.35), (-2.000, 0.6), (-1.938, 1.0),
              (-1.876, 1.2), (-1.815, 1.35), (-1.732, 1.0), (-1.650, 1.35), (-1.568, 1.2), (-1.485, 1.9),
              (-1.424, 2.3), (-1.393, 2.5), (-1.352, 2.9), (-1.321, 1.35), (-1.280, 1.0), (-1.239, 0.8),
              (-1.197, 0.4), (-1.156, 0.6), (-1.095, 1.0), (-1.033, 1.2), (-0.992, 1.5), (-0.961, 1.9),
              (-0.940, 1.0), (-0.920, 0.1), (-0.889, 0.0), (-0.374, 0.0), (-0.354, 1.0), (-0.323, 1.9),
              (-0.292, 1.5), (-0.251, 1.0), (-0.210, 1.2), (-0.169, 1.0), (-0.128, 1.9), (-0.086, 1.35),
              (-0.045, 3.1), (-0.014, 2.1), (0.016, 1.7), (0.047, 1.2), (0.078, 1.9), (0.119, 1.0),
              (0.160, 1.2), (0.202, 1.0), (0.263, 1.2), (0.325, 1.0), (0.387, 1.9), (0.449, 0.6),
              (0.490, 0.2), (0.531, 1.0), (0.572, 3.3), (0.603, 2.7), (0.634, 2.7), (0.675, 2.5),
              (0.716, 2.1), (0.757, 2.9), (0.788, 3.5), (0.819, 4.6), (0.850, 6.8), (0.870, 7.1),
              (0.891, 5.2), (0.912, 7.5), (0.932, 7.9), (0.942, 9.1), (0.963, 7.3), (0.994, 6.4),
              (1.024, 6.0), (1.055, 5.2), (1.086, 4.4), (1.117, 4.8), (1.148, 3.5), (1.179, 4.8),
              (1.210, 4.1), (1.240, 3.7), (1.271, 4.8), (1.302, 3.5), (1.333, 5.0), (1.364, 3.7),
              (1.395, 4.4), (1.426, 3.3), (1.457, 4.8), (1.487, 2.7), (1.518, 4.1), (1.549, 2.1),
              (1.580, 4.8), (1.611, 2.9), (1.642, 1.9), (1.673, 3.7), (1.703, 9.5), (1.724, 9.1),
              (1.745, 7.1), (1.775, 7.3), (1.806, 6.0), (1.837, 5.2), (1.868, 6.4), (1.899, 5.6),
              (1.930, 4.4), (1.961, 6.0), (1.992, 7.5), (2.022, 4.4), (2.053, 6.0), (2.084, 4.8),
              (2.115, 5.6), (2.146, 4.4), (2.177, 6.0), (2.208, 6.8), (2.249, 5.8), (2.280, 7.9),
              (2.321, 9.1), (2.341, 7.9), (2.372, 5.6), (2.393, 2.7), (2.424, 3.1), (2.454, 2.9),
              (2.485, 2.3), (2.516, 4.4), (2.547, 2.9), (2.578, 3.7), (2.609, 2.3), (2.650, 4.4),
              (2.681, 2.1), (2.712, 4.1), (2.743, 1.9), (2.773, 4.4), (2.804, 3.3), (2.835, 3.7),
              (2.866, 2.7), (2.897, 2.1), (2.917, 1.35), (2.938, 5.2), (2.979, 3.7), (3.0, 4.0)]

gb_blue_dn = [(-2.988, -4.4), (-2.967, -3.3), (-2.936, -3.1), (-2.895, -2.9), (-2.854, -4.2), (-2.813, -4.4),
              (-2.771, -4.6), (-2.730, -4.4), (-2.689, -4.1), (-2.648, -1.9), (-2.607, -2.1), (-2.566, -1.7),
              (-2.514, -2.7), (-2.473, -2.5), (-2.432, -3.1), (-2.391, -3.3), (-2.350, -3.1), (-2.308, -3.5),
              (-2.267, -3.9), (-2.226, -4.4), (-2.185, -5.2), (-2.144, -6.0), (-2.103, -6.0), (-2.072, -5.2),
              (-2.051, -3.3), (-2.031, -1.7), (-2.010, -0.4), (-1.959, -1.0), (-1.876, -1.35), (-1.794, -1.35),
              (-1.712, -1.2), (-1.629, -1.2), (-1.547, -1.5), (-1.485, -1.7), (-1.424, -2.1), (-1.383, -2.3),
              (-1.345, -2.9), (-1.321, -2.1), (-1.280, -1.0), (-1.239, -0.4), (-1.197, 0.0), (-1.136, -0.6),
              (-1.074, -1.0), (-1.012, -1.35), (-0.971, -1.7), (-0.961, -1.9), (-0.940, -1.2), (-0.920, -0.2),
              (-0.889, -0.1), (-0.374, -0.1), (-0.354, -0.8), (-0.323, -1.7), (-0.292, -1.35), (-0.251, -1.0),
              (-0.210, -1.0), (-0.169, -1.2), (-0.128, -1.7), (-0.086, -1.35), (-0.045, -3.1), (-0.014, -1.7),
              (0.016, -1.5), (0.047, -1.2), (0.089, -1.7), (0.119, -1.0), (0.160, -1.2), (0.243, -1.35),
              (0.325, -1.2), (0.387, -1.0), (0.449, -0.6), (0.490, -1.0), (0.531, -1.7), (0.572, -3.7),
              (0.603, -2.3), (0.634, -2.5), (0.675, -2.5), (0.716, -2.9), (0.757, -4.1), (0.788, -3.9),
              (0.819, -4.4), (0.850, -5.6), (0.881, -6.8), (0.912, -7.9), (0.950, -9.1), (0.980, -7.9),
              (1.014, -6.4), (1.045, -6.0), (1.076, -5.2), (1.107, -4.8), (1.138, -4.4), (1.168, -3.5),
              (1.210, -4.1), (1.240, -3.7), (1.282, -4.8), (1.313, -3.7), (1.343, -4.4), (1.385, -3.1),
              (1.415, -4.1), (1.457, -3.3), (1.498, -2.9), (1.529, -4.1), (1.559, -2.1), (1.590, -3.1),
              (1.621, -2.5), (1.652, -1.7), (1.683, -3.7), (1.714, -7.1), (1.734, -8.7), (1.765, -7.5),
              (1.806, -6.0), (1.848, -5.4), (1.889, -4.8), (1.930, -5.0), (1.971, -4.4), (2.002, -6.0),
              (2.033, -4.1), (2.064, -5.2), (2.094, -6.4), (2.136, -5.2), (2.177, -6.2), (2.218, -5.2),
              (2.259, -6.8), (2.300, -7.9), (2.331, -8.7), (2.362, -5.2), (2.383, -2.5), (2.424, -3.7),
              (2.465, -4.4), (2.496, -2.5), (2.527, -3.1), (2.568, -2.5), (2.609, -2.9), (2.650, -3.7),
              (2.691, -2.9), (2.732, -3.7), (2.763, -4.2), (2.794, -2.5), (2.835, -4.4), (2.876, -3.3),
              (2.907, -1.35), (2.938, -5.2), (2.979, -2.5), (3.0, -3.0)]

# ---------------- figure ----------------
fig = plt.figure(figsize=(11.07, 7.90), dpi=100)
W, H = 1107.0, 790.0
left, right = 118 / W, 1090 / W
top_px, bot_px = 6.0, 694.0
ph = (bot_px - top_px) / 4.0

RED = '#ff0000'
BLUE = '#0000ff'
FS_TICK = 19
FS_TITLE = 19.5
FS_LABEL = 21.5

panels = [
    (cnt_up, [(e, -d) for e, d in cnt_up], None, None),
    (gd_red_up, gd_red_dn, gd_blue_up, gd_blue_dn),
    (ga_red_up, ga_red_dn, ga_blue_up, ga_blue_dn),
    (gb_red_up, gb_red_dn, gb_blue_up, gb_blue_dn),
]
title_pos = [(497, 25), (496, 198), (517, 380), (517, 550)]

axes = []
for i, (ru, rd, bu, bd) in enumerate(panels):
    y0 = top_px + i * ph
    ax = fig.add_axes([left, 1 - (y0 + ph) / H, right - left, ph / H])
    axes.append(ax)
    ax.axhline(0, color='#222222', lw=1.1, ls=(0, (4, 5.5)), zorder=1)
    ax.axvline(0, color='#222222', lw=1.1, ls=(0, (4, 5.5)), zorder=1)
    for data in (ru, rd):
        e, d = zip(*data)
        ax.plot(e, d, color=RED, lw=1.8, ls='-', zorder=3)
    if bu is not None:
        for data in (bu, bd):
            e, d = zip(*data)
            ax.plot(e, d, color=BLUE, lw=2.0, ls=(0, (0.9, 1.5)), zorder=4)
    ax.set_xlim(-3, 3)
    ax.set_ylim(-10.1, 10.1)
    ax.set_xticks(x_ticks)
    ax.set_yticks(y_ticks)
    ax.tick_params(direction='in', length=7, width=1.5, top=True, right=True,
                   labelsize=FS_TICK, pad=5)
    if i < 3:
        ax.tick_params(labelbottom=False)
    for sp in ax.spines.values():
        sp.set_linewidth(1.5)
    tx, ty = title_pos[i]
    fig.text(tx / W, 1 - ty / H, panel_titles[i], ha='center', va='center', fontsize=FS_TITLE)

axes[-1].tick_params(axis='x', pad=8)
fig.text(30 / W, 1 - 343 / H, "DOS  (states/eV)", rotation=90, ha='center', va='center', fontsize=FS_LABEL)
fig.text(604 / W, 1 - 768 / H, "E - E$_{F}$ (eV)", ha='center', va='center', fontsize=FS_LABEL)

fig.savefig("out.png", dpi=100)
